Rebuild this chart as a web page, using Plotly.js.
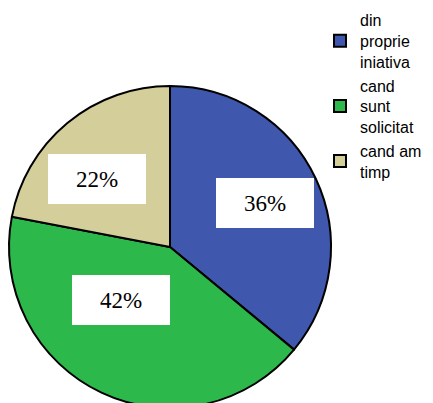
<!DOCTYPE html>
<html>
<head>
<meta charset="utf-8">
<script src="https://cdn.plot.ly/plotly-3.0.1.min.js"></script>
<style>
html,body{margin:0;padding:0;overflow:hidden;background:#fff;}
#chart{width:433px;height:412px;}
</style>
</head>
<body>
<div id="chart"></div>
<script>
// Data
var categories = ["din<br>proprie<br>iniativa", "cand<br>sunt<br>solicitat", "cand am<br>timp"];
var values = [36, 42, 22];
var colors = ["#3F58AD", "#2DB84C", "#D4CE9B"];

var W = 433, H = 412;
// label box centres (pixels) - layout only
var labelPx = [[265, 203], [121, 300], [96.5, 179]];

var total = values.reduce(function(a, b){ return a + b; }, 0);
var annotations = values.map(function(v, i){
  return {
    xref: "paper", yref: "paper",
    x: labelPx[i][0] / W, y: 1 - labelPx[i][1] / H,
    xanchor: "center", yanchor: "middle",
    text: Math.round(v / total * 100) + "%",
    showarrow: false,
    bgcolor: "#ffffff",
    width: 98, height: 50,
    borderpad: 0, borderwidth: 0,
    font: {family: "Liberation Serif, Times New Roman, serif", size: 23, color: "#000"}
  };
});

var trace = {
  type: "pie",
  labels: categories,
  values: values,
  sort: false,
  direction: "clockwise",
  rotation: 0,
  textinfo: "none",
  hoverinfo: "none",
  marker: {colors: colors, line: {color: "#000", width: 2}},
  domain: {x: [9 / W, 331 / W], y: [1 - 408 / H, 1 - 86 / H]}
};

var layout = {
  width: W, height: H,
  margin: {l: 0, r: 0, t: 0, b: 0},
  paper_bgcolor: "#fff",
  showlegend: true,
  legend: {
    x: 320 / W, xanchor: "left",
    y: 1 - 3 / H, yanchor: "top",
    font: {family: "Liberation Sans, Arial, sans-serif", size: 16, color: "#000"},
    bgcolor: "rgba(0,0,0,0)",
    tracegroupgap: 0,
    itemclick: false
  },
  annotations: annotations
};

Plotly.newPlot("chart", [trace], layout, {staticPlot: true, displayModeBar: false});
</script>
</body>
</html>
